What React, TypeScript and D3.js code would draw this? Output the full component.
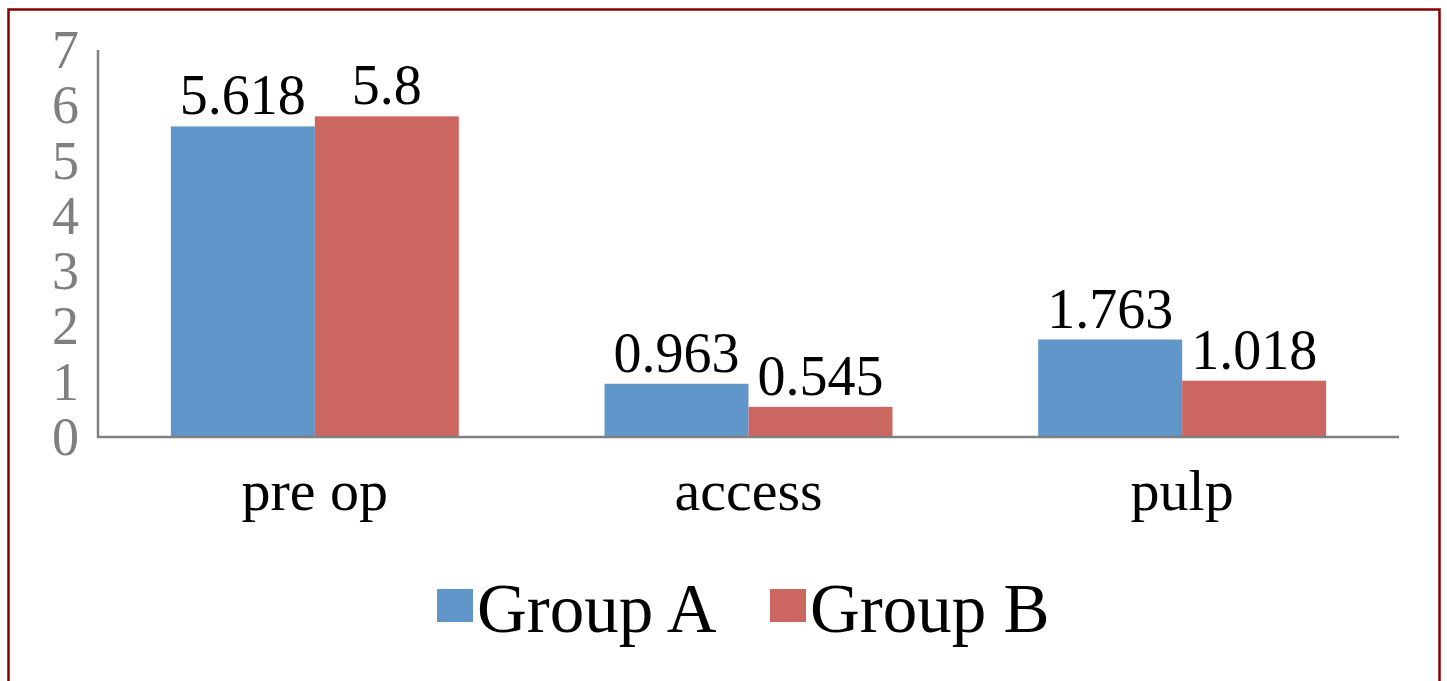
import * as d3 from "d3";

const categories = ["pre op", "access", "pulp"];
const seriesNames = ["Group A", "Group B"];
const groupA = [5.618, 0.963, 1.763];
const groupB = [5.8, 0.545, 1.018];
const yTicks = [0, 1, 2, 3, 4, 5, 6, 7];
const colors = ["#6096CA", "#CC6660"];

const W = 1447;
const H = 681;
const FONT = "'Liberation Serif', 'DejaVu Serif', serif";

export default function App() {
  const plotLeft = 98;
  const plotRight = 1399;
  const plotTop = 50;
  const plotBottom = 437;

  const x0 = d3
    .scaleBand<string>()
    .domain(categories)
    .range([plotLeft, plotRight])
    .paddingInner(0.336)
    .paddingOuter(0.168);
  const x1 = d3
    .scaleBand<string>()
    .domain(seriesNames)
    .range([0, x0.bandwidth()]);
  const y = d3.scaleLinear().domain([0, 7]).range([plotBottom, plotTop]);

  const values = [groupA, groupB];

  return (
    <svg
      width={W}
      height={H}
      style={{ position: "absolute", left: 0, top: 0, background: "#fff" }}
    >
      <rect x={0} y={0} width={W} height={H} fill="#fff" />
      {/* frame */}
      <rect
        x={8.5}
        y={9.5}
        width={1431}
        height={700}
        fill="none"
        stroke="#850000"
        strokeWidth={2.5}
      />

      {/* y tick labels */}
      {yTicks.map((t) => (
        <text
          key={t}
          x={79}
          y={y(t) + 18}
          textAnchor="end"
          fontFamily={FONT}
          fontSize={54}
          fill="#7f7f7f"
        >
          {t}
        </text>
      ))}

      {/* bars */}
      {categories.map((c, i) => (
        <g key={c} transform={`translate(${x0(c)},0)`}>
          {seriesNames.map((s, j) => {
            const v = values[j][i];
            const bx = x1(s)!;
            const bw = x1.bandwidth();
            return (
              <g key={s}>
                <rect
                  x={bx}
                  y={y(v)}
                  width={bw}
                  height={plotBottom - y(v)}
                  fill={colors[j]}
                />
                <text
                  x={bx + bw / 2}
                  y={y(v) - 12}
                  textAnchor="middle"
                  fontFamily={FONT}
                  fontSize={56}
                  fill="#000"
                >
                  {v}
                </text>
              </g>
            );
          })}
        </g>
      ))}

      {/* axes */}
      <line
        x1={plotLeft}
        x2={plotLeft}
        y1={plotTop}
        y2={plotBottom + 1}
        stroke="#808080"
        strokeWidth={2.5}
      />
      <line
        x1={plotLeft - 1}
        x2={plotRight}
        y1={plotBottom}
        y2={plotBottom}
        stroke="#808080"
        strokeWidth={2.5}
      />

      {/* category labels */}
      {categories.map((c) => (
        <text
          key={c}
          x={x0(c)! + x0.bandwidth() / 2}
          y={510}
          textAnchor="middle"
          fontFamily={FONT}
          fontSize={58}
          fill="#000"
        >
          {c}
        </text>
      ))}

      {/* legend */}
      {seriesNames.map((s, j) => {
        const lx = j === 0 ? 437 : 770;
        return (
          <g key={s}>
            <rect x={lx} y={589} width={36} height={33} fill={colors[j]} />
            <text
              x={lx + 40}
              y={632}
              fontFamily={FONT}
              fontSize={69}
              fill="#000"
            >
              {s}
            </text>
          </g>
        );
      })}
    </svg>
  );
}
